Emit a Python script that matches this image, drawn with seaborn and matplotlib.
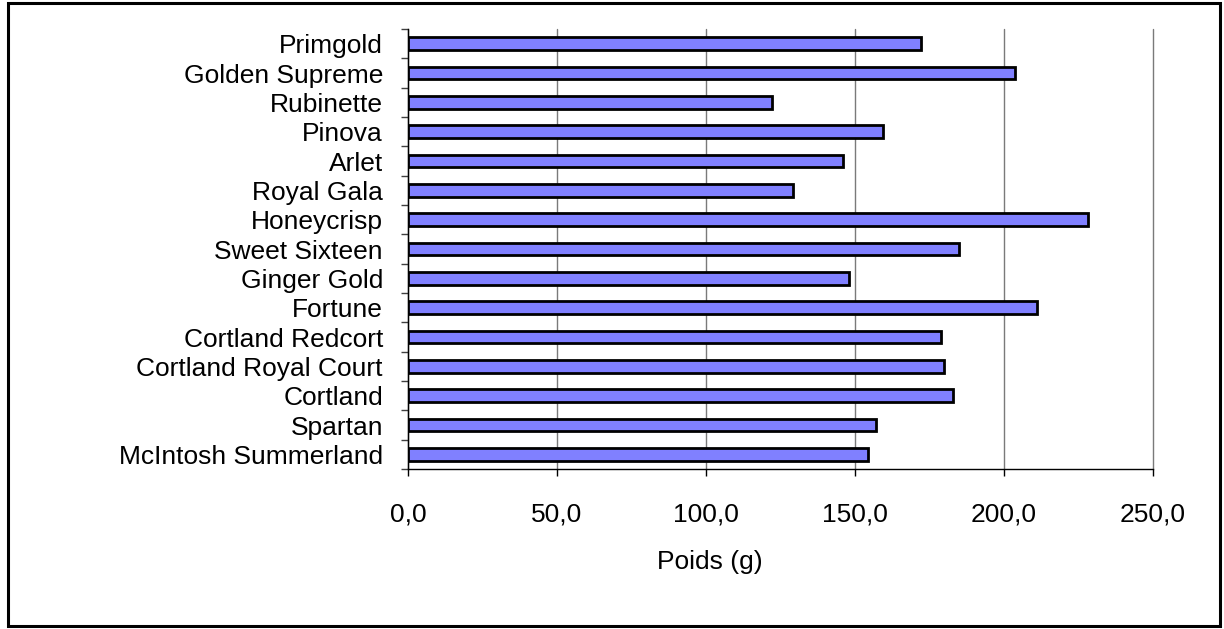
import pandas as pd
import matplotlib.pyplot as plt
import seaborn as sns
from matplotlib.patches import Rectangle

varietes = ['Primgold', 'Golden Supreme', 'Rubinette', 'Pinova', 'Arlet', 'Royal Gala',
            'Honeycrisp', 'Sweet Sixteen', 'Ginger Gold', 'Fortune', 'Cortland Redcort',
            'Cortland Royal Court', 'Cortland', 'Spartan', 'McIntosh Summerland']
poids = [172.0, 203.7, 122.0, 159.5, 146.0, 129.3,
         228.2, 184.8, 147.9, 211.2, 178.8,
         179.7, 182.9, 157.2, 154.4]
ticks_x = [0, 50, 100, 150, 200, 250]
labels_x = ['0,0', '50,0', '100,0', '150,0', '200,0', '250,0']

df = pd.DataFrame({'Variete': varietes, 'Poids': poids})

sns.set_style("white", {'xtick.bottom': True, 'ytick.left': True,
                        'text.color': 'black', 'axes.labelcolor': 'black',
                        'xtick.color': 'black', 'ytick.color': 'black'})
plt.rcParams['font.family'] = ['Liberation Sans', 'DejaVu Sans']

W, H = 1224, 629
fig = plt.figure(figsize=(W / 100, H / 100), dpi=100)
ax = fig.add_axes([408 / W, (H - 469) / H, (1153 - 408) / W, (469 - 29) / H])

sns.barplot(data=df, x='Poids', y='Variete', orient='h', color='#8080FF',
            saturation=1, width=0.43, edgecolor='black', linewidth=2.0, ax=ax, zorder=3)

ax.set_xlim(0, 250)
ax.set_ylim(len(varietes) - 0.5, -0.5)
ax.set_xticks(ticks_x)
ax.set_xticklabels(labels_x)
ax.xaxis.grid(True, color='#7a7a7a', linewidth=1)
for gl in ax.get_xgridlines():
    gl.set_clip_on(False)
ax.set_axisbelow(True)

for s in ['top', 'right']:
    ax.spines[s].set_visible(False)
for s in ['left', 'bottom']:
    ax.spines[s].set_color('black')
    ax.spines[s].set_linewidth(1)

ax.set_yticks([i - 0.5 for i in range(len(varietes) + 1)], minor=True)
ax.tick_params(axis='y', which='major', length=0, pad=18, labelsize=19, labelcolor='black')
ax.tick_params(axis='y', which='minor', length=5, width=1, color='#404040', direction='out')
ax.tick_params(axis='x', which='major', length=5, width=1, color='black', direction='out',
               pad=19, labelsize=19, labelcolor='black')

ax.set_ylabel('')
ax.set_xlabel('Poids (g)', fontsize=19, color='black')
ax.xaxis.set_label_coords(0.405, -0.185)

fig.patches.append(Rectangle((8 / W, 3 / H), (1220 - 8) / W, (626 - 3) / H,
                             transform=fig.transFigure, fill=False,
                             edgecolor='black', linewidth=2.2))

fig.savefig('out.png', dpi=100)
